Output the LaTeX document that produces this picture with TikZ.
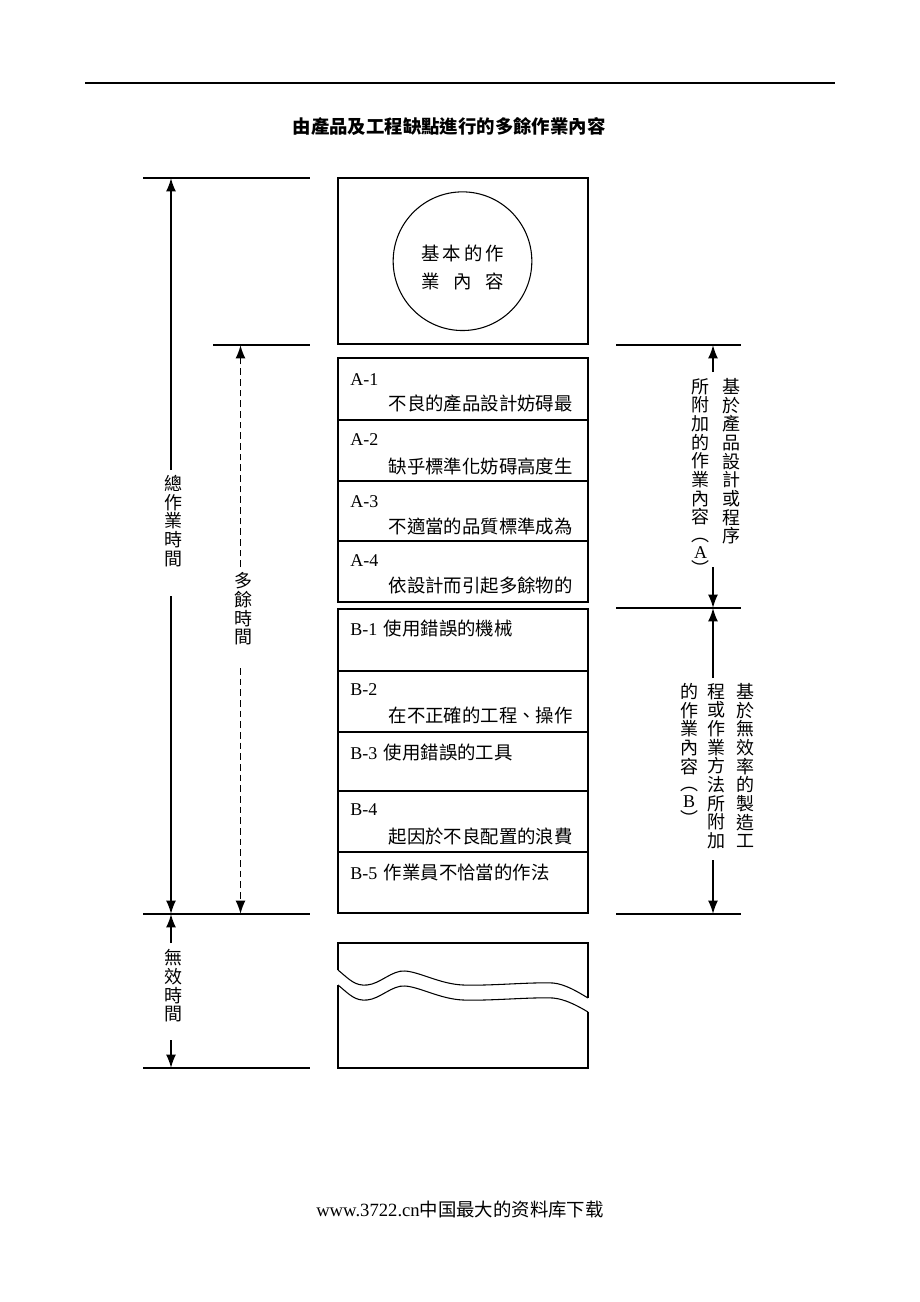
\documentclass[tikz,border=0pt]{standalone}
\usepackage{fontspec}
\usepackage{graphicx}
\setmainfont{Liberation Serif}
\newfontfamily\cjk{Noto Sans CJK TC}
\newfontfamily\cjksc{Noto Sans CJK SC}
\usetikzlibrary{arrows.meta}
\begin{document}
\begin{tikzpicture}[x=0.75pt,y=-0.75pt]
\useasboundingbox (0,0) rectangle (920,1302);
\tikzset{
  rule/.style={line width=0.8pt},
  box/.style={draw, line width=1pt},
  hl/.style={line width=0.9pt},
  arr/.style={line width=1.4pt, -{Latex[length=10pt,width=7.5pt]}},
  darr/.style={line width=1.4pt, dash pattern=on 5pt off 3pt, -{Latex[length=10pt,width=7.5pt]}},
  vt/.style={font=\cjk\fontsize{13.5}{14}\selectfont, align=center, inner sep=0pt},
  rowcn/.style={font=\cjk\fontsize{13.8}{16}\selectfont, anchor=east, inner sep=0pt},
  rowlat/.style={font=\rmfamily\fontsize{13.5}{16}\selectfont, anchor=west, inner sep=0pt},
  circtext/.style={font=\cjk\fontsize{13.8}{15}\selectfont, inner sep=0pt},
  titlestyle/.style={font=\cjk\bfseries\fontsize{13.8}{16}\selectfont, inner sep=0pt},
}
% top rule and title
\draw[rule] (85,83) -- (835,83);
\node[titlestyle] (title) at (449,127) {由產品及工程缺點進行的多餘作業內容};

% basic content box
\draw[box] (338,178) rectangle (588,344);
\node[circle, draw, line width=0.8pt, minimum size=104pt, inner sep=0pt] (basic) at (462.5,261.2) {};
\node[circtext] (c1) at (462.5,253) {\makebox[62pt][s]{基\hfil 本\hfil 的\hfil 作}};
\node[circtext] (c2) at (462.5,281) {\makebox[62pt][s]{業\hfil 內\hfil 容}};

% A rows
\draw[box] (338,358) rectangle (588,602);
\foreach \yy in {420,481,541} \draw[box] (338,\yy) -- (588,\yy);
\node[rowlat] (a1l) at (350,380) {A-1};
\node[rowcn] (a1t) at (573,404) {不良的產品設計妨碍最};
\node[rowlat] (a2l) at (350,440) {A-2};
\node[rowcn] (a2t) at (573,466) {缺乎標準化妨碍高度生};
\node[rowlat] (a3l) at (350,502) {A-3};
\node[rowcn] (a3t) at (573,527) {不適當的品質標準成為};
\node[rowlat] (a4l) at (350,561) {A-4};
\node[rowcn] (a4t) at (573,586) {依設計而引起多餘物的};

% B rows
\draw[box] (338,609) rectangle (588,913);
\foreach \yy in {671,732,791,852} \draw[box] (338,\yy) -- (588,\yy);
\node[rowlat] (b1) at (350,628) {B-1\hspace{5pt}{\cjk\fontsize{13.8}{16}\selectfont 使用錯誤的機械}};
\node[rowlat] (b2l) at (350,690) {B-2};
\node[rowcn] (b2t) at (573,715) {在不正確的工程、操作};
\node[rowlat] (b3) at (350,752) {B-3\hspace{5pt}{\cjk\fontsize{13.8}{16}\selectfont 使用錯誤的工具}};
\node[rowlat] (b4l) at (350,810) {B-4};
\node[rowcn] (b4t) at (573,836) {起因於不良配置的浪費};
\node[rowlat] (b5) at (350,872) {B-5\hspace{5pt}{\cjk\fontsize{13.8}{16}\selectfont 作業員不恰當的作法}};

% wavy bottom box
\draw[box] (338,970) -- (338,943) -- (588,943) -- (588,998);
\draw[line width=0.8pt] (338,970) .. controls (350,980) and (355,986) .. (367,985)
  .. controls (380,984) and (392,970) .. (405,971)
  .. controls (420,972) and (440,984) .. (463,985)
  .. controls (490,986) and (530,982) .. (553,983)
  .. controls (565,984) and (578,992) .. (588,998);
\draw[box] (338,985) -- (338,1068) -- (588,1068) -- (588,1012);
\draw[line width=0.8pt] (338,985) .. controls (350,995) and (355,1001) .. (367,1000)
  .. controls (380,999) and (392,985) .. (405,986)
  .. controls (420,987) and (440,999) .. (463,1000)
  .. controls (490,1001) and (530,997) .. (553,998)
  .. controls (565,999) and (578,1006) .. (588,1012);

% left reference lines
\draw[hl] (143,178) -- (310,178);
\draw[hl] (213,345) -- (310,345);
\draw[hl] (143,914) -- (310,914);
\draw[hl] (143,1068) -- (310,1068);

% left labels
\node[vt] (tot) at (173,521) {總\\作\\業\\時\\間};
\node[vt] (extra) at (243,609) {多\\餘\\時\\間};
\node[vt] (idle) at (173,986) {無\\效\\時\\間};

\coordinate (totTop) at (171,178);
\coordinate (totA) at (171,470);
\coordinate (totB) at (171,596);
\coordinate (totBot) at (171,914);
\draw[arr] (totA) -- (totTop);
\draw[arr] (totB) -- (totBot);

\coordinate (exTop) at (240.5,345);
\coordinate (exA) at (240.5,567);
\coordinate (exB) at (240.5,668);
\coordinate (exBot) at (240.5,914);
\draw[darr] (exA) -- (exTop);
\draw[darr] (exB) -- (exBot);

\coordinate (idTop) at (171,914);
\coordinate (idA) at (171,943);
\coordinate (idB) at (171,1040);
\coordinate (idBot) at (171,1068);
\draw[arr] (idA) -- (idTop);
\draw[arr] (idB) -- (idBot);

% right reference lines
\draw[hl] (616,345) -- (741,345);
\draw[hl] (616,608) -- (741,608);
\draw[hl] (616,914) -- (741,914);

% right labels
\node[vt, anchor=north] (ra1) at (731.5,378) {基\\於\\產\\品\\設\\計\\或\\程\\序};
\node[vt, anchor=north] (ra2) at (700.5,378) {所\\附\\加\\的\\作\\業\\內\\容\\[-1pt]︵\\[-1pt]{\rmfamily A}\\[-1pt]︶};
\node[vt, anchor=north] (rb1) at (745,683) {基\\於\\無\\效\\率\\的\\製\\造\\工};
\node[vt, anchor=north] (rb2) at (716.5,683) {程\\或\\作\\業\\方\\法\\所\\附\\加};
\node[vt, anchor=north] (rb3) at (689,683) {的\\作\\業\\內\\容\\[-1pt]︵\\[-1pt]{\rmfamily B}\\[-1pt]︶};

\coordinate (raTop) at (713,345);
\coordinate (raA) at (713,372);
\coordinate (raB) at (713,567);
\coordinate (raBot) at (713,608);
\draw[arr] (raA) -- (raTop);
\draw[arr] (raB) -- (raBot);

\coordinate (rbTop) at (713,608);
\coordinate (rbA) at (713,678);
\coordinate (rbB) at (713,860);
\coordinate (rbBot) at (713,914);
\draw[arr] (rbA) -- (rbTop);
\draw[arr] (rbB) -- (rbBot);

% footer
\node[anchor=west, inner sep=0pt, font=\fontsize{14}{16}\selectfont] (footer) at (316,1210)
  {www.3722.cn{\cjksc\fontsize{13.8}{16}\selectfont 中国最大的资料库下载}};
\end{tikzpicture}
\end{document}
